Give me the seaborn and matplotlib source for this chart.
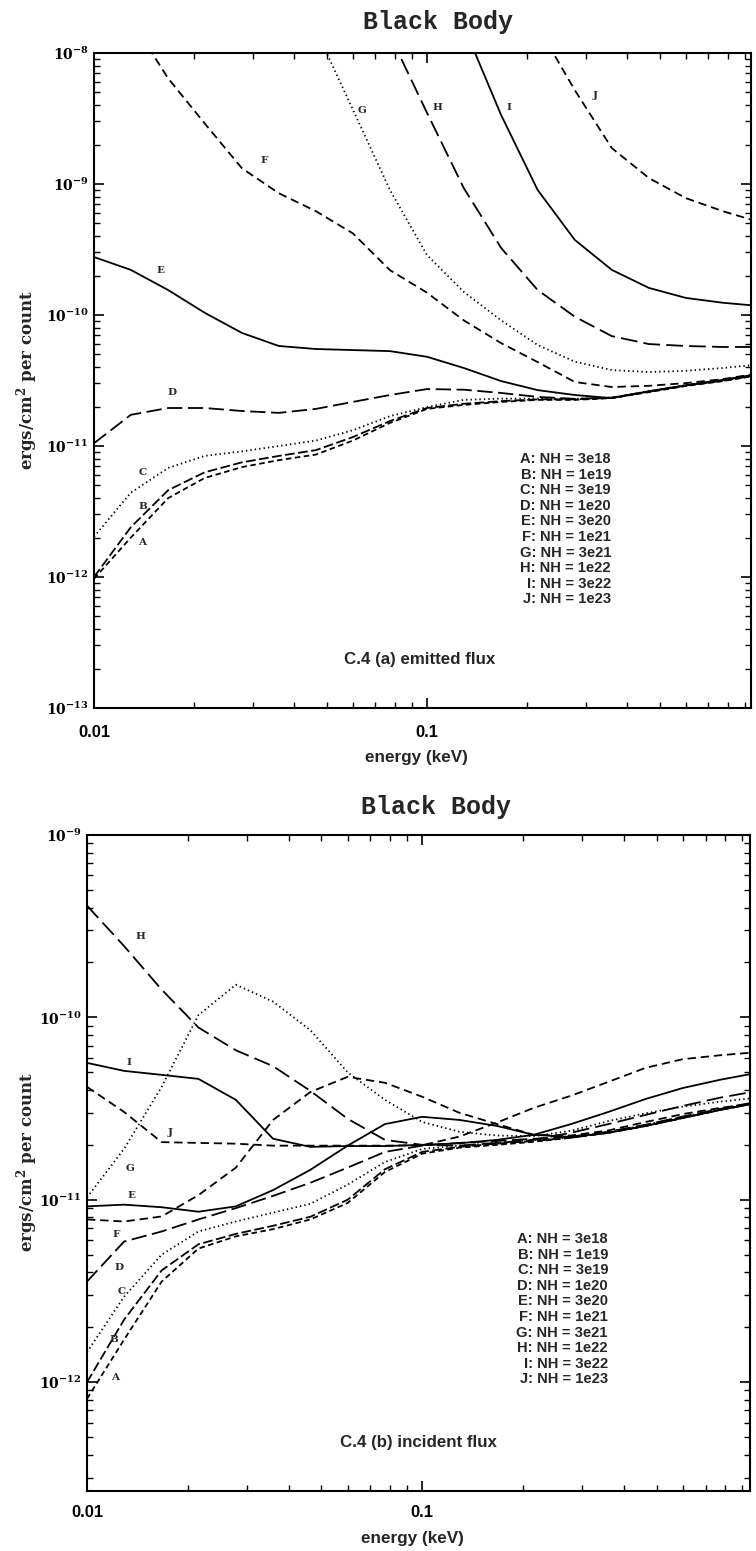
import numpy as np
import pandas as pd
import matplotlib
matplotlib.use("Agg")
import matplotlib.pyplot as plt
import matplotlib.ticker as mticker
import seaborn as sns

# ---------------- data ----------------
ENERGY_KEV = [0.01, 0.0129, 0.0167, 0.0215, 0.0278, 0.0359, 0.0464, 0.0599, 0.0774,
              0.1, 0.129, 0.167, 0.215, 0.278, 0.359, 0.464, 0.599, 0.774, 1.0]
CURVES = ["A", "B", "C", "D", "E", "F", "G", "H", "I", "J"]
NH_VALUES = ["3e18", "1e19", "3e19", "1e20", "3e20", "1e21", "3e21", "1e22", "3e22", "1e23"]
X_TICKS = [0.01, 0.1]
Y_TICKS_EMIT = [1e-13, 1e-12, 1e-11, 1e-10, 1e-9, 1e-8]
Y_TICKS_INC = [1e-12, 1e-11, 1e-10, 1e-9]

# (a) emitted flux
EMIT_A = [9.7e-13, 2.0e-12, 4.0e-12, 5.7e-12, 6.9e-12, 7.8e-12, 8.6e-12, 1.1e-11, 1.5e-11,
          1.92e-11, 2.06e-11, 2.17e-11, 2.25e-11, 2.25e-11, 2.32e-11, 2.58e-11, 2.87e-11, 3.13e-11, 3.48e-11]
EMIT_B = [1.0e-12, 2.4e-12, 4.6e-12, 6.3e-12, 7.5e-12, 8.4e-12, 9.3e-12, 1.17e-11, 1.55e-11,
          1.95e-11, 2.1e-11, 2.2e-11, 2.27e-11, 2.27e-11, 2.33e-11, 2.6e-11, 2.9e-11, 3.15e-11, 3.5e-11]
EMIT_C = [2.03e-12, 4.4e-12, 6.8e-12, 8.4e-12, 9.1e-12, 1.0e-11, 1.1e-11, 1.32e-11, 1.69e-11,
          1.98e-11, 2.25e-11, 2.3e-11, 2.3e-11, 2.29e-11, 2.34e-11, 2.62e-11, 2.92e-11, 3.18e-11, 3.55e-11]
EMIT_D = [1.05e-11, 1.73e-11, 1.95e-11, 1.95e-11, 1.85e-11, 1.79e-11, 1.92e-11, 2.17e-11, 2.45e-11,
          2.72e-11, 2.69e-11, 2.54e-11, 2.37e-11, 2.29e-11, 2.34e-11, 2.6e-11, 2.9e-11, 3.18e-11, 3.55e-11]
EMIT_E = [2.77e-10, 2.21e-10, 1.55e-10, 1.04e-10, 7.3e-11, 5.8e-11, 5.5e-11, 5.4e-11, 5.3e-11,
          4.8e-11, 3.94e-11, 3.13e-11, 2.67e-11, 2.45e-11, 2.32e-11, 2.62e-11, 2.9e-11, 3.2e-11, 3.55e-11]
EMIT_F = [3e-8, 1.8e-8, 6.4e-9, 2.9e-9, 1.32e-9, 8.5e-10, 6.2e-10, 4.2e-10, 2.2e-10,
          1.48e-10, 9.1e-11, 6.1e-11, 4.37e-11, 3.08e-11, 2.82e-11, 2.88e-11, 3.02e-11, 3.24e-11, 3.6e-11]
EMIT_G = [1e-6, 6e-7, 3.5e-7, 2e-7, 1.2e-7, 5e-8, 1.5e-8, 3.7e-9, 9.0e-10,
          2.87e-10, 1.5e-10, 9.1e-11, 5.9e-11, 4.4e-11, 3.8e-11, 3.67e-11, 3.75e-11, 3.94e-11, 4.2e-11]
EMIT_H = [2e-6, 1.2e-6, 7e-7, 4e-7, 2.5e-7, 1.5e-7, 9e-8, 4e-8, 1.37e-8,
          3.5e-9, 9.3e-10, 3.25e-10, 1.55e-10, 9.7e-11, 6.9e-11, 6.0e-11, 5.8e-11, 5.7e-11, 5.7e-11]
EMIT_I = [5e-6, 3e-6, 2e-6, 1.2e-6, 8e-7, 5e-7, 3e-7, 1.8e-7, 1e-7,
          5e-8, 1.6e-8, 3.36e-9, 9.0e-10, 3.74e-10, 2.21e-10, 1.61e-10, 1.35e-10, 1.24e-10, 1.17e-10]
EMIT_J = [1e-5, 7e-6, 5e-6, 3e-6, 2e-6, 1.4e-6, 1e-6, 6e-7, 4e-7,
          2.5e-7, 1.2e-7, 5e-8, 1.6e-8, 5.2e-9, 1.88e-9, 1.11e-9, 7.8e-10, 6.2e-10, 5.1e-10]

# (b) incident flux
INC_A = [8.1e-13, 1.71e-12, 3.56e-12, 5.4e-12, 6.3e-12, 6.9e-12, 7.8e-12, 9.6e-12, 1.42e-11,
         1.79e-11, 1.93e-11, 2.0e-11, 2.08e-11, 2.19e-11, 2.33e-11, 2.54e-11, 2.81e-11, 3.11e-11, 3.4e-11]
INC_B = [1.0e-12, 2.2e-12, 4.1e-12, 5.7e-12, 6.5e-12, 7.2e-12, 8.07e-12, 1.0e-11, 1.47e-11,
         1.83e-11, 1.95e-11, 2.03e-11, 2.1e-11, 2.19e-11, 2.33e-11, 2.54e-11, 2.81e-11, 3.11e-11, 3.4e-11]
INC_C = [1.46e-12, 2.94e-12, 5.0e-12, 6.7e-12, 7.6e-12, 8.5e-12, 9.5e-12, 1.21e-11, 1.61e-11,
         1.9e-11, 1.98e-11, 2.05e-11, 2.13e-11, 2.19e-11, 2.35e-11, 2.57e-11, 2.85e-11, 3.15e-11, 3.45e-11]
INC_D = [3.56e-12, 5.9e-12, 6.7e-12, 7.8e-12, 9.0e-12, 1.05e-11, 1.24e-11, 1.5e-11, 1.83e-11,
         1.98e-11, 2.05e-11, 2.1e-11, 2.16e-11, 2.22e-11, 2.36e-11, 2.58e-11, 2.86e-11, 3.15e-11, 3.45e-11]
INC_E = [9.2e-12, 9.4e-12, 9.1e-12, 8.6e-12, 9.2e-12, 1.13e-11, 1.46e-11, 1.98e-11, 2.6e-11,
         2.85e-11, 2.74e-11, 2.54e-11, 2.27e-11, 2.21e-11, 2.33e-11, 2.54e-11, 2.81e-11, 3.11e-11, 3.4e-11]
INC_F = [7.8e-12, 7.6e-12, 8.1e-12, 1.06e-11, 1.5e-11, 2.74e-11, 3.9e-11, 4.72e-11, 4.38e-11,
         3.67e-11, 3.0e-11, 2.6e-11, 2.27e-11, 2.25e-11, 2.4e-11, 2.67e-11, 2.95e-11, 3.19e-11, 3.4e-11]
INC_G = [1.03e-11, 1.9e-11, 4.16e-11, 1.03e-10, 1.51e-10, 1.22e-10, 8.5e-11, 5.0e-11, 3.53e-11,
         2.67e-11, 2.36e-11, 2.25e-11, 2.23e-11, 2.39e-11, 2.7e-11, 2.98e-11, 3.24e-11, 3.45e-11, 3.63e-11]
INC_H = [4.1e-10, 2.46e-10, 1.42e-10, 8.8e-11, 6.6e-11, 5.4e-11, 3.95e-11, 2.78e-11, 2.13e-11,
         2.0e-11, 1.98e-11, 2.05e-11, 2.13e-11, 2.33e-11, 2.6e-11, 2.92e-11, 3.27e-11, 3.63e-11, 3.95e-11]
INC_I = [5.63e-11, 5.09e-11, 4.84e-11, 4.6e-11, 3.53e-11, 2.16e-11, 1.95e-11, 1.97e-11, 1.97e-11,
         2.0e-11, 2.04e-11, 2.13e-11, 2.27e-11, 2.6e-11, 3.03e-11, 3.57e-11, 4.1e-11, 4.55e-11, 4.97e-11]
INC_J = [4.16e-11, 3.03e-11, 2.07e-11, 2.05e-11, 2.03e-11, 1.98e-11, 1.98e-11, 1.98e-11, 1.98e-11,
         1.99e-11, 2.22e-11, 2.65e-11, 3.19e-11, 3.72e-11, 4.43e-11, 5.29e-11, 5.9e-11, 6.2e-11, 6.45e-11]

# curve-letter label positions (energy keV, value)
EMIT_LABEL_POS = {"A": (0.0139, 1.82e-12), "B": (0.0140, 3.48e-12), "C": (0.0140, 6.3e-12),
                  "D": (0.0171, 2.58e-11), "E": (0.0158, 2.17e-10), "F": (0.0324, 1.52e-9),
                  "G": (0.0638, 3.67e-9), "H": (0.1072, 3.87e-9), "I": (0.1763, 3.87e-9),
                  "J": (0.3198, 4.7e-9)}
INC_LABEL_POS = {"A": (0.0121, 1.06e-12), "B": (0.0120, 1.71e-12), "C": (0.0127, 3.13e-12),
                 "D": (0.0125, 4.24e-12), "E": (0.0136, 1.06e-11), "F": (0.0122, 6.43e-12),
                 "G": (0.0134, 1.48e-11), "H": (0.0144, 2.76e-10), "I": (0.0133, 5.63e-11),
                 "J": (0.0177, 2.33e-11)}

EMIT = dict(zip(CURVES, [EMIT_A, EMIT_B, EMIT_C, EMIT_D, EMIT_E, EMIT_F, EMIT_G, EMIT_H, EMIT_I, EMIT_J]))
INC = dict(zip(CURVES, [INC_A, INC_B, INC_C, INC_D, INC_E, INC_F, INC_G, INC_H, INC_I, INC_J]))


def long_table(series):
    rows = []
    for c in CURVES:
        for e, v in zip(ENERGY_KEV, series[c]):
            rows.append({"energy": e, "flux": v, "curve": c})
    return pd.DataFrame(rows)


# ---------------- style ----------------
sns.set_theme(style="ticks")
plt.rcParams.update({
    "font.family": ["DejaVu Serif"],
    "mathtext.fontset": "dejavuserif",
    "mathtext.default": "bf",
    "lines.scale_dashes": False,
    "axes.linewidth": 1.5,
    "axes.edgecolor": "black",
    "xtick.color": "black",
    "ytick.color": "black",
})

DASHES = {"A": (4, 2.5), "B": (7, 2.5), "C": (1, 2.2), "D": (11, 4), "E": "",
          "F": (6, 3.5), "G": (1, 2.2), "H": (12, 4.5), "I": "", "J": (6, 3.5)}
PALETTE = {c: "black" for c in CURVES}

W, H = 756, 1551
fig = plt.figure(figsize=(W / 100, H / 100), dpi=100)


def px(x, y):
    return x / W, 1 - y / H


def add_axes(left, top, right, bottom):
    return fig.add_axes([left / W, 1 - bottom / H, (right - left) / W, (bottom - top) / H])


def decorate(ax, xlim, ylim, yticks, xlab_pad):
    ax.set_xscale("log")
    ax.set_yscale("log")
    ax.set_xlim(*xlim)
    ax.set_ylim(*ylim)
    ax.xaxis.set_major_locator(mticker.FixedLocator(X_TICKS))
    ax.xaxis.set_minor_locator(mticker.LogLocator(base=10, subs=(2, 3, 4, 5, 6, 7, 8, 9), numticks=20))
    ax.xaxis.set_major_formatter(mticker.FuncFormatter(lambda v, p: f"{v:g}"))
    ax.xaxis.set_minor_formatter(mticker.NullFormatter())
    ax.yaxis.set_major_locator(mticker.FixedLocator(yticks))
    ax.yaxis.set_minor_locator(mticker.LogLocator(base=10, subs=(2, 3, 4, 5, 6, 7, 8, 9), numticks=20))
    ax.yaxis.set_major_formatter(mticker.FuncFormatter(lambda v, p: r"$10^{%d}$" % round(np.log10(v))))
    ax.yaxis.set_minor_formatter(mticker.NullFormatter())
    ax.tick_params(which="major", direction="in", length=7.5, width=1.2, top=True, right=True)
    ax.tick_params(which="minor", direction="in", length=4, width=1.0, top=True, right=True)
    ax.tick_params(axis="y", which="major", labelsize=10, pad=4)
    ax.tick_params(axis="x", which="major", pad=xlab_pad)
    for lab in ax.get_xticklabels():
        lab.set_fontfamily("Liberation Sans")
        lab.set_fontweight("bold")
        lab.set_fontsize(12)
    ax.set_xlabel("")
    ax.set_ylabel("")
    for s in ax.spines.values():
        s.set_visible(True)
        s.set_linewidth(1.5)


def draw_panel(ax, series, label_pos):
    df = long_table(series)
    ax.set_xscale("log")
    ax.set_yscale("log")
    sns.lineplot(data=df, x="energy", y="flux", hue="curve", style="curve",
                 palette=PALETTE, dashes=DASHES, estimator=None, sort=False,
                 legend=False, linewidth=1.3, ax=ax)
    for c in CURVES:
        x, y = label_pos[c]
        ax.text(x, y, c, fontsize=7.5, fontweight="bold", family="DejaVu Serif",
                ha="center", va="center")


# top panel
ax1 = add_axes(94, 53, 751, 708)
draw_panel(ax1, EMIT, EMIT_LABEL_POS)
decorate(ax1, (0.01, 0.94), (1e-13, 1e-8), Y_TICKS_EMIT, 12)

# bottom panel
ax2 = add_axes(87, 835, 750, 1491)
draw_panel(ax2, INC, INC_LABEL_POS)
decorate(ax2, (0.01, 0.95), (2.53e-13, 1e-9), Y_TICKS_INC, 10)

# titles, axis labels, annotations
for (tx, ty) in [(438, 22), (436, 807)]:
    fig.text(*px(tx, ty), "Black Body", family="Liberation Mono", fontsize=18,
             fontweight="bold", ha="center", va="center")
for (lx, ly) in [(27, 380), (27, 1162)]:
    fig.text(*px(lx, ly), r"ergs/cm$^{\mathbf{2}}$ per count", family="DejaVu Serif",
             fontweight="bold", fontsize=12, rotation=90, ha="center", va="center")
for (ex, ey) in [(416, 757), (412, 1538)]:
    fig.text(*px(ex, ey), "energy (keV)", family="Liberation Sans", fontweight="bold",
             fontsize=12.3, ha="center", va="center")
fig.text(*px(420, 660), "C.4 (a) emitted flux", family="Liberation Sans",
         fontweight="bold", fontsize=12.2, ha="center", va="center")
fig.text(*px(418, 1443), "C.4 (b) incident flux", family="Liberation Sans",
         fontweight="bold", fontsize=12.2, ha="center", va="center")

# NH key blocks
for (rx, y0) in [(611, 459), (608, 1239)]:
    for i, (c, nh) in enumerate(zip(CURVES, NH_VALUES)):
        fig.text(*px(rx, y0 + i * 15.6), f"{c}: NH = {nh}", family="Liberation Sans",
                 fontweight="bold", fontsize=10.6, ha="right", va="center")

fig.savefig("out.png", dpi=100)
